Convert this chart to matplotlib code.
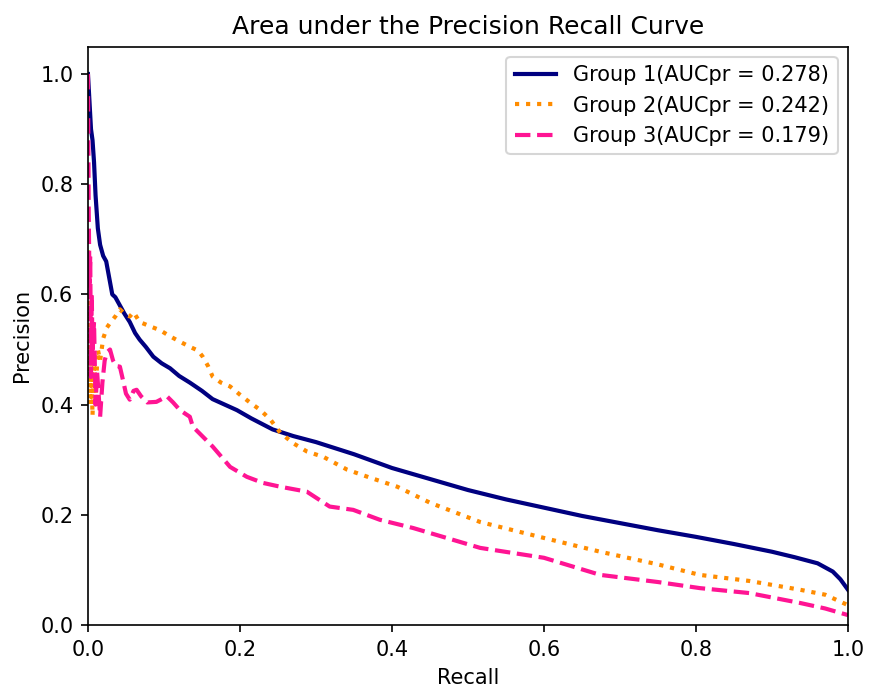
import matplotlib
matplotlib.use("Agg")
import matplotlib.pyplot as plt

# Group 1 (solid navy)
recall_1 = [0.0, 0.002, 0.004, 0.006, 0.008, 0.010, 0.013, 0.016, 0.020, 0.024, 0.028,
            0.032, 0.036, 0.042, 0.048, 0.055, 0.062, 0.068, 0.076, 0.086, 0.097, 0.108,
            0.120, 0.134, 0.150, 0.164, 0.180, 0.196, 0.215, 0.243, 0.27, 0.30, 0.35,
            0.40, 0.45, 0.50, 0.55, 0.60, 0.65, 0.70, 0.75, 0.80, 0.85, 0.90, 0.93,
            0.96, 0.98, 0.99, 1.0]
precision_1 = [1.0, 0.95, 0.90, 0.88, 0.84, 0.78, 0.72, 0.69, 0.67, 0.66, 0.63,
               0.60, 0.595, 0.58, 0.565, 0.55, 0.53, 0.518, 0.505, 0.487, 0.475, 0.466,
               0.452, 0.44, 0.425, 0.41, 0.40, 0.39, 0.375, 0.355, 0.343, 0.332, 0.31,
               0.285, 0.265, 0.245, 0.228, 0.213, 0.198, 0.185, 0.172, 0.16, 0.147, 0.133, 0.123,
               0.112, 0.097, 0.083, 0.064]

# Group 2 (dotted orange)
recall_2 = [0.0, 0.001, 0.002, 0.003, 0.004, 0.006, 0.008, 0.010, 0.013, 0.016, 0.020,
            0.025, 0.030, 0.036, 0.042, 0.048, 0.055, 0.060, 0.068, 0.082, 0.095, 0.108,
            0.120, 0.134, 0.145, 0.151, 0.158, 0.164, 0.175, 0.187, 0.200, 0.213, 0.227,
            0.24, 0.253, 0.27, 0.288, 0.31, 0.341, 0.37, 0.407, 0.45, 0.516, 0.6, 0.674,
            0.75, 0.805, 0.87, 0.937, 0.97, 1.0]
precision_2 = [0.70, 0.45, 0.60, 0.40, 0.50, 0.38, 0.47, 0.42, 0.50, 0.48, 0.52,
               0.54, 0.55, 0.56, 0.573, 0.565, 0.56, 0.568, 0.55, 0.542, 0.535, 0.524,
               0.515, 0.505, 0.498, 0.487, 0.47, 0.451, 0.44, 0.433, 0.418, 0.404, 0.39,
               0.373, 0.349, 0.33, 0.315, 0.305, 0.282, 0.268, 0.251, 0.222, 0.187, 0.158, 0.133,
               0.11, 0.091, 0.08, 0.064, 0.055, 0.036]

# Group 3 (dashed pink)
recall_3 = [0.0, 0.001, 0.002, 0.003, 0.004, 0.005, 0.006, 0.008, 0.010, 0.012, 0.014,
            0.016, 0.019, 0.022, 0.025, 0.029, 0.033, 0.037, 0.042, 0.046, 0.050, 0.055,
            0.060, 0.064, 0.070, 0.078, 0.090, 0.104, 0.112, 0.121, 0.134, 0.138, 0.151,
            0.164, 0.187, 0.209, 0.23, 0.253, 0.288, 0.318, 0.349, 0.384, 0.428, 0.472,
            0.516, 0.6, 0.674, 0.75, 0.805, 0.87, 0.937, 0.97, 1.0]
precision_3 = [1.0, 0.75, 0.62, 0.67, 0.45, 0.60, 0.50, 0.55, 0.40, 0.46, 0.42,
               0.378, 0.44, 0.48, 0.495, 0.50, 0.48, 0.47, 0.469, 0.445, 0.42, 0.409,
               0.425, 0.427, 0.415, 0.404, 0.405, 0.415, 0.404, 0.39, 0.378, 0.36, 0.342,
               0.324, 0.287, 0.269, 0.258, 0.251, 0.242, 0.215, 0.209, 0.191, 0.176, 0.158,
               0.14, 0.122, 0.091, 0.078, 0.067, 0.058, 0.04, 0.03, 0.018]

labels = ["Group 1(AUCpr = 0.278)", "Group 2(AUCpr = 0.242)", "Group 3(AUCpr = 0.179)"]

dpi = 150
fig = plt.figure(figsize=(870 / dpi, 693 / dpi), dpi=dpi)
ax = fig.add_axes([0.1011, 0.0981, 0.8736, 0.8348])

ax.plot(recall_1, precision_1, color="navy", lw=2, linestyle="-", label=labels[0])
ax.plot(recall_2, precision_2, color="darkorange", lw=2, linestyle=":", label=labels[1])
ax.plot(recall_3, precision_3, color="deeppink", lw=2, linestyle="--", label=labels[2])

ax.set_xlim(0.0, 1.0)
ax.set_ylim(0.0, 1.05)
ax.set_xlabel("Recall")
ax.set_ylabel("Precision")
ax.set_title("Area under the Precision Recall Curve")
ax.legend(loc="upper right")

fig.savefig("out.png", dpi=dpi)
